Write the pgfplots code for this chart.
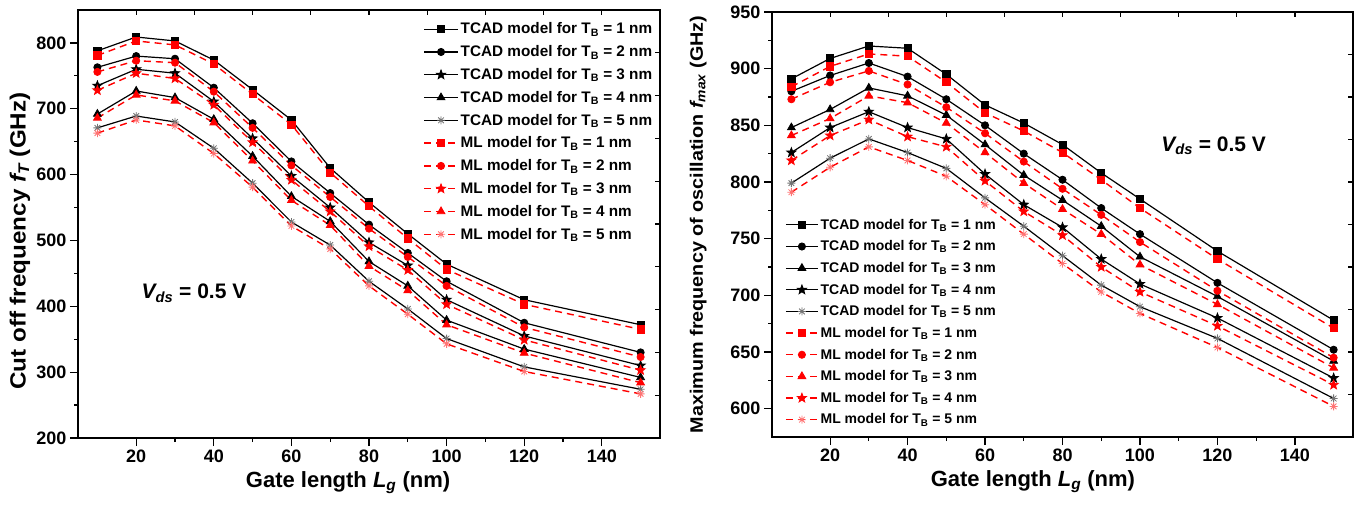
\documentclass[border=0pt]{standalone}
\usepackage{fontspec}
\setmainfont{Liberation Sans}
\usepackage{pgfplots}
\pgfplotsset{compat=1.18}
\usepackage{pgfplotstable}

\pgfdeclareplotmark{fstar}{%
  \pgfpathmoveto{\pgfqpointpolar{90}{\pgfplotmarksize}}%
  \pgfpathlineto{\pgfqpointpolar{126}{0.42\pgfplotmarksize}}%
  \pgfpathlineto{\pgfqpointpolar{162}{\pgfplotmarksize}}%
  \pgfpathlineto{\pgfqpointpolar{198}{0.42\pgfplotmarksize}}%
  \pgfpathlineto{\pgfqpointpolar{234}{\pgfplotmarksize}}%
  \pgfpathlineto{\pgfqpointpolar{270}{0.42\pgfplotmarksize}}%
  \pgfpathlineto{\pgfqpointpolar{306}{\pgfplotmarksize}}%
  \pgfpathlineto{\pgfqpointpolar{342}{0.42\pgfplotmarksize}}%
  \pgfpathlineto{\pgfqpointpolar{18}{\pgfplotmarksize}}%
  \pgfpathlineto{\pgfqpointpolar{54}{0.42\pgfplotmarksize}}%
  \pgfpathclose
  \pgfusepathqfillstroke
}
\pgfdeclareplotmark{ast8}{%
  \pgfpathmoveto{\pgfqpoint{-\pgfplotmarksize}{0pt}}\pgfpathlineto{\pgfqpoint{\pgfplotmarksize}{0pt}}%
  \pgfpathmoveto{\pgfqpoint{0pt}{-\pgfplotmarksize}}\pgfpathlineto{\pgfqpoint{0pt}{\pgfplotmarksize}}%
  \pgfpathmoveto{\pgfqpointpolar{45}{\pgfplotmarksize}}\pgfpathlineto{\pgfqpointpolar{225}{\pgfplotmarksize}}%
  \pgfpathmoveto{\pgfqpointpolar{135}{\pgfplotmarksize}}\pgfpathlineto{\pgfqpointpolar{315}{\pgfplotmarksize}}%
  \pgfusepathqstroke
}

% f_T data: t = TCAD, m = ML ; 1..5 = T_B in nm
\pgfplotstableread{
x   t1  t2  t3  t4  t5  m1  m2  m3  m4  m5
10  788 763 735 692 671 781 756 728 686 663
20  809 780 760 727 689 803 773 754 721 683
30  803 776 754 717 680 797 770 746 712 674
40  774 732 711 684 640 768 726 706 679 632
50  729 678 655 628 587 722 671 649 621 581
60  683 620 598 567 528 676 614 592 561 522
70  610 572 550 529 493 603 566 544 523 487
80  558 524 497 468 438 552 518 491 461 431
90  510 481 462 431 396 503 475 455 424 388
100 464 438 410 379 351 456 431 403 372 343
120 410 375 355 335 308 403 368 349 329 301
150 372 330 310 292 274 365 323 303 284 267
}\ftdata

% f_max data
\pgfplotstableread{
x   t1  t2  t3  t4  t5  m1  m2  m3  m4  m5
10  891 880 848 826 799 884 873 841 819 791
20  909 894 864 848 821 902 888 856 841 813
30  920 905 883 862 838 913 898 876 855 831
40  918 893 876 848 826 911 886 870 840 819
50  895 873 859 838 812 888 866 852 831 805
60  868 850 833 807 786 861 843 826 801 780
70  852 825 806 780 761 845 818 799 774 754
80  833 802 784 760 735 826 794 776 753 728
90  808 777 761 732 709 802 771 754 725 703
100 785 754 734 710 690 777 747 727 703 684
120 739 711 699 680 662 732 704 692 673 654
150 678 652 642 627 609 671 645 636 621 602
}\fmaxdata

\pgfplotsset{
  tcad/.style={black, line width=1.2pt, mark options={solid, line width=0.8pt}},
  ml/.style={red, line width=1.4pt, dash pattern=on 7pt off 5pt, mark options={solid, line width=0.8pt}},
  base/.style={
    scale only axis, anchor=south west,
    xmin=5, xmax=155, xtick={20,40,...,140}, minor x tick num=1, minor y tick num=1,
    tick align=outside, xtick pos=left, ytick pos=left,
    major tick length=8pt, minor tick length=4pt,
    every tick/.style={black, line width=1.2pt},
    every minor tick/.style={black, line width=1.2pt},
    axis line style={line width=1.6pt},
    tick label style={font=\bfseries\fontsize{18}{18}\selectfont},
    /pgf/number format/assume math mode=true,
    legend cell align=left,
  },
  mirror/.style={
    scale only axis, anchor=south west,
    xmin=5, xmax=155, xtick={20,35,...,140},
    xticklabels={}, yticklabels={},
    tick align=inside, xtick pos=right, ytick pos=right,
    major tick length=5pt,
    every tick/.style={black, line width=1.2pt},
    axis line style={line width=1.6pt},
  },
}

\begin{document}
\begin{tikzpicture}
\useasboundingbox (0pt,0pt) rectangle (1357pt,506pt);

% ---------------- left: f_T ----------------
\begin{axis}[base,
  at={(78pt,68pt)}, width=582pt, height=428pt,
  ymin=200, ymax=850, ytick={200,300,...,800},
  every axis x label/.style={at={(axis description cs:0.464,0)}, anchor=center, yshift=-45pt},
  every axis y label/.style={at={(axis description cs:-0.0997,0.46)}, rotate=90, anchor=center},
  xlabel={Gate length {\itshape L}\textsubscript{\itshape g} (nm)},
  ylabel={\scalebox{1.1}[1]{Cut off frequency {\itshape f}\textsubscript{\itshape T} (GHz)}},
  label style={font=\bfseries\fontsize{22}{22}\selectfont},
  legend image code/.code={\draw[mark repeat=2,mark phase=2,#1] plot coordinates {(0pt,0pt) (17pt,0pt) (34pt,0pt)};},
  legend style={draw=none, fill=none, inner sep=0pt, at={(axis description cs:0.593,0.975)}, anchor=north west,
    font=\bfseries\fontsize{15.3}{15.3}\selectfont, row sep=6.2pt},
]
\addplot[tcad, mark=square*, mark size=3.6pt] table[x=x,y=t1]{\ftdata};
\addlegendentry{TCAD model for T\textsubscript{B} = 1 nm}
\addplot[tcad, mark=*, mark size=3.6pt] table[x=x,y=t2]{\ftdata};
\addlegendentry{TCAD model for T\textsubscript{B} = 2 nm}
\addplot[tcad, mark=fstar, mark size=4.8pt] table[x=x,y=t3]{\ftdata};
\addlegendentry{TCAD model for T\textsubscript{B} = 3 nm}
\addplot[tcad, mark=triangle*, mark size=4.5pt] table[x=x,y=t4]{\ftdata};
\addlegendentry{TCAD model for T\textsubscript{B} = 4 nm}
\addplot[tcad, mark=ast8, mark size=4pt, mark options={solid, draw=black!55, line width=0.8pt}] table[x=x,y=t5]{\ftdata};
\addlegendentry{TCAD model for T\textsubscript{B} = 5 nm}
\addplot[ml, mark=square*, mark size=3.6pt] table[x=x,y=m1]{\ftdata};
\addlegendentry{ML model for T\textsubscript{B} = 1 nm}
\addplot[ml, mark=*, mark size=3.6pt] table[x=x,y=m2]{\ftdata};
\addlegendentry{ML model for T\textsubscript{B} = 2 nm}
\addplot[ml, mark=fstar, mark size=4.8pt] table[x=x,y=m3]{\ftdata};
\addlegendentry{ML model for T\textsubscript{B} = 3 nm}
\addplot[ml, mark=triangle*, mark size=4.5pt] table[x=x,y=m4]{\ftdata};
\addlegendentry{ML model for T\textsubscript{B} = 4 nm}
\addplot[ml, mark=ast8, mark size=4pt, mark options={solid, draw=red!55, line width=0.8pt}] table[x=x,y=m5]{\ftdata};
\addlegendentry{ML model for T\textsubscript{B} = 5 nm}
\node[anchor=base west, font=\bfseries\fontsize{21}{21}\selectfont] at (axis cs:20.5,411.7) {{\itshape V}\textsubscript{\itshape ds} = 0.5 V};
\end{axis}
\begin{axis}[mirror, at={(78pt,68pt)}, width=582pt, height=428pt,
  ymin=200, ymax=850, ytick={265,330,...,785}]
\end{axis}

% ---------------- right: f_max ----------------
\begin{axis}[base,
  at={(772pt,69pt)}, width=581pt, height=425pt,
  ymin=575, ymax=950, ytick={600,650,...,950},
  every axis x label/.style={at={(axis description cs:0.449,0)}, anchor=center, yshift=-45pt},
  every axis y label/.style={at={(axis description cs:-0.127,0.5)}, rotate=90, anchor=center},
  xlabel={Gate length {\itshape L}\textsubscript{\itshape g} (nm)},
  ylabel={\scalebox{1.1}[1]{Maximum frequency of oscillation {\itshape f}\textsubscript{\itshape max} (GHz)}},
  xlabel style={font=\bfseries\fontsize{22}{22}\selectfont},
  ylabel style={font=\bfseries\fontsize{18}{18}\selectfont},
  legend image code/.code={\draw[mark repeat=2,mark phase=2,#1] plot coordinates {(0pt,0pt) (16pt,0pt) (32pt,0pt)};},
  legend style={draw=none, fill=none, inner sep=0pt, at={(axis description cs:0.0224,0.518)}, anchor=north west,
    font=\bfseries\fontsize{14}{14}\selectfont, row sep=6pt},
]
\addplot[tcad, mark=square*, mark size=3.6pt] table[x=x,y=t1]{\fmaxdata};
\addlegendentry{TCAD model for T\textsubscript{B} = 1 nm}
\addplot[tcad, mark=*, mark size=3.6pt] table[x=x,y=t2]{\fmaxdata};
\addlegendentry{TCAD model for T\textsubscript{B} = 2 nm}
\addplot[tcad, mark=triangle*, mark size=4.5pt] table[x=x,y=t3]{\fmaxdata};
\addlegendentry{TCAD model for T\textsubscript{B} = 3 nm}
\addplot[tcad, mark=fstar, mark size=4.8pt] table[x=x,y=t4]{\fmaxdata};
\addlegendentry{TCAD model for T\textsubscript{B} = 4 nm}
\addplot[tcad, mark=ast8, mark size=4pt, mark options={solid, draw=black!55, line width=0.8pt}] table[x=x,y=t5]{\fmaxdata};
\addlegendentry{TCAD model for T\textsubscript{B} = 5 nm}
\addplot[ml, mark=square*, mark size=3.6pt] table[x=x,y=m1]{\fmaxdata};
\addlegendentry{ML model for T\textsubscript{B} = 1 nm}
\addplot[ml, mark=*, mark size=3.6pt] table[x=x,y=m2]{\fmaxdata};
\addlegendentry{ML model for T\textsubscript{B} = 2 nm}
\addplot[ml, mark=triangle*, mark size=4.5pt] table[x=x,y=m3]{\fmaxdata};
\addlegendentry{ML model for T\textsubscript{B} = 3 nm}
\addplot[ml, mark=fstar, mark size=4.8pt] table[x=x,y=m4]{\fmaxdata};
\addlegendentry{ML model for T\textsubscript{B} = 4 nm}
\addplot[ml, mark=ast8, mark size=4pt, mark options={solid, draw=red!55, line width=0.8pt}] table[x=x,y=m5]{\fmaxdata};
\addlegendentry{ML model for T\textsubscript{B} = 5 nm}
\node[anchor=base west, font=\bfseries\fontsize{21}{21}\selectfont] at (axis cs:104.6,827) {{\itshape V}\textsubscript{\itshape ds} = 0.5 V};
\end{axis}
\begin{axis}[mirror, at={(772pt,69pt)}, width=581pt, height=425pt,
  ymin=575, ymax=950, ytick={612.5,650,...,912.5}]
\end{axis}
\end{tikzpicture}
\end{document}
